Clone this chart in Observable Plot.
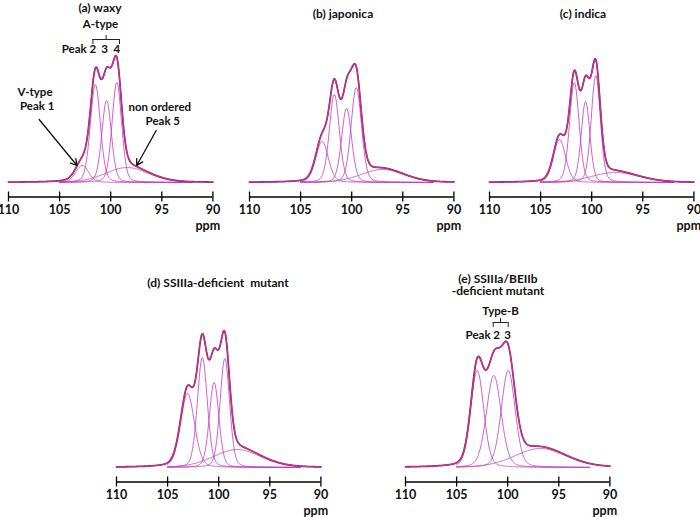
<!DOCTYPE html>
<html><head><meta charset="utf-8">
<script src="https://cdn.jsdelivr.net/npm/d3@7"></script>
<script src="https://cdn.jsdelivr.net/npm/@observablehq/plot@0.6"></script>
<style>
html,body{margin:0;padding:0;background:#fff;overflow:hidden;}
#wrap{position:relative;width:700px;height:517px;overflow:hidden;font-family:Lato,"Open Sans",sans-serif;}
.panel{position:absolute;width:240px;height:260px;}
.panel svg{max-width:none !important;}
.title{position:absolute;width:300px;text-align:center;font-size:12px;font-weight:700;line-height:11.5px;color:#111;white-space:pre;}
</style></head><body><div id="wrap"></div>
<script>
// ---- data ----
const xTicks = [110, 105, 100, 95, 90];
const axisLabel = "ppm";

// Titles
const titleA = ["(a) waxy"];
const titleB = ["(b) japonica"];
const titleC = ["(c) indica"];
const titleD = ["(d) SSIIIa-deficient  mutant"];
const titleE = ["(e) SSIIIa/BEIIb", "-deficient mutant"];

// Deconvoluted peaks: centre (ppm), height (intensity), FWHM (ppm)
const centersA = [102.8, 101.5, 100.4, 99.4, 98.4];
const heightsA = [17, 98, 82, 100, 15];
const widthsA  = [1.5, 1.15, 1.1, 1.1, 5.0];

const centersB = [102.9, 101.7, 100.5, 99.55, 97.0];
const heightsB = [41, 88, 74, 95, 13];
const widthsB  = [1.45, 1.15, 1.15, 1.2, 5.0];

const centersC = [103.15, 101.7, 100.6, 99.6, 97.7];
const heightsC = [43, 100, 81, 107, 10];
const widthsC  = [1.4, 1.1, 1.0, 1.05, 5.5];

const centersD = [103.05, 101.6, 100.45, 99.4, 98.2];
const heightsD = [74, 110, 85, 109, 18];
const widthsD  = [1.6, 1.15, 1.1, 1.1, 5.5];

const centersE = [102.98, 101.36, 99.95, 96.8];
const heightsE = [97, 92, 97, 19];
const widthsE  = [1.5, 1.7, 1.6, 6.0];

// Annotations (ppm, intensity)
const labelsMidA = [
  {text: "A-type", x: 101.0, y: 158},
  {text: "3", x: 100.6, y: 133},
  {text: "4", x: 99.4, y: 133},
  {text: "V-type", x: 107.4, y: 90},
  {text: "Peak 1", x: 107.2, y: 76},
  {text: "non ordered", x: 95.2, y: 75},
  {text: "Peak 5", x: 94.9, y: 61}
];
const labelsEndA = [{text: "Peak 2", x: 101.42, y: 133}];
const arrowsA = [
  {x1: 107.0, y1: 63, x2: 103.3, y2: 17},
  {x1: 95.55, y1: 52, x2: 97.45, y2: 17}
];
const bracketA = {x1: 101.74, x2: 99.14, xm: 100.45, y: 143, yEnd: 138, yMid: 147};

const labelsMidE = [
  {text: "Type-B", x: 100.7, y: 156},
  {text: "3", x: 100.0, y: 132.5}
];
const labelsEndE = [{text: "Peak 2", x: 100.75, y: 132.5}];
const bracketE = {x1: 101.42, x2: 99.95, xm: 100.7, y: 145, yEnd: 140, yMid: 149};

// page placement (pixels) of each panel
const panels = [
  {title: titleA, centers: centersA, heights: heightsA, widths: widthsA, mid: labelsMidA, end: labelsEndA, arrows: arrowsA, bracket: bracketA, left: -11.7, top: -18, tx: 100, ty: 8},
  {title: titleB, centers: centersB, heights: heightsB, widths: widthsB, mid: [], end: [], arrows: [], bracket: null, left: 229, top: -18, tx: 343, ty: 14},
  {title: titleC, centers: centersC, heights: heightsC, widths: widthsC, mid: [], end: [], arrows: [], bracket: null, left: 469.3, top: -18, tx: 583, ty: 14},
  {title: titleD, centers: centersD, heights: heightsD, widths: widthsD, mid: [], end: [], arrows: [], bracket: null, left: 95.7, top: 266.5, tx: 218, ty: 283},
  {title: titleE, centers: centersE, heights: heightsE, widths: widthsE, mid: labelsMidE, end: labelsEndE, arrows: [], bracket: bracketE, left: 385, top: 266.5, tx: 498, ty: 285}
];

// ---- drawing ----
const ETA = 0.2;
function shape(x, c, h, w) {
  const d = (x - c) / (w / 2);
  const L = 1 / (1 + d * d);
  const G = Math.exp(-Math.LN2 * d * d);
  return h * (ETA * L + (1 - ETA) * G);
}
const grid = d3.range(0, 401).map(i => 90 + i * 0.05);
const compGrid = grid.filter(x => x >= 92 && x <= 105);
const font = "Lato, 'Open Sans', sans-serif";
const wrap = document.getElementById("wrap");
const textStyle = {fontSize: 11.5, fontWeight: 700, fontFamily: font, fill: "#111"};

for (const p of panels) {
  const comps = p.centers.map((c, i) => ({k: i, c, h: p.heights[i], w: p.widths[i]}));
  const compRows = comps.flatMap(q => compGrid.map(x => ({k: q.k, x, y: shape(x, q.c, q.h, q.w)})));
  const sumRows = grid.map(x => ({x, y: d3.sum(comps, q => shape(x, q.c, q.h, q.w))}));
  const marks = [
    Plot.line(compRows, {x: "x", y: "y", z: "k", stroke: "#c23cc2", strokeWidth: 0.9, strokeOpacity: 0.9}),
    Plot.line(sumRows, {x: "x", y: "y", stroke: "#3a3aff", strokeWidth: 1.8}),
    Plot.line(sumRows, {x: "x", y: "y", stroke: "#ff2a2a", strokeWidth: 1.1}),
    Plot.ruleY([-14.5], {x1: 110, x2: 90, stroke: "#000", strokeWidth: 1.3}),
    Plot.ruleX(xTicks, {x: d => d, y1: -9.5, y2: -19.5, stroke: "#000", strokeWidth: 1.3}),
    Plot.text(xTicks, {x: d => d, y: -27.5, text: d => String(d), ...textStyle, fontSize: 12.5}),
    Plot.text([axisLabel], {x: 90.5, y: -43, text: d => d, ...textStyle, fontSize: 12.5})
  ];
  if (p.mid.length) marks.push(Plot.text(p.mid, {x: "x", y: "y", text: "text", textAnchor: "middle", ...textStyle}));
  if (p.end.length) marks.push(Plot.text(p.end, {x: "x", y: "y", text: "text", textAnchor: "end", ...textStyle}));
  if (p.arrows.length) {
    marks.push(Plot.arrow(p.arrows, {x1: "x1", y1: "y1", x2: "x2", y2: "y2", stroke: "#111", strokeWidth: 1.3, headLength: 8}));
  }
  if (p.bracket) {
    const b = p.bracket;
    marks.push(Plot.ruleY([b], {y: "y", x1: "x1", x2: "x2", stroke: "#222", strokeWidth: 1}));
    marks.push(Plot.ruleX([b.x1, b.x2], {x: d => d, y1: b.y, y2: b.yEnd, stroke: "#222", strokeWidth: 1}));
    marks.push(Plot.ruleX([b.xm], {x: d => d, y1: b.y, y2: b.yMid, stroke: "#222", strokeWidth: 1}));
  }
  const chart = Plot.plot({
    width: 240, height: 260,
    marginTop: 0, marginRight: 0, marginBottom: 0, marginLeft: 0,
    x: {domain: [110, 90], range: [20, 224.4], axis: null},
    y: {domain: [0, 150], range: [200, 50], axis: null},
    style: {background: "transparent", overflow: "visible", maxWidth: "none"},
    marks
  });
  const div = document.createElement("div");
  div.className = "panel";
  div.style.left = p.left + "px";
  div.style.top = p.top + "px";
  div.appendChild(chart);
  wrap.appendChild(div);

  const t = document.createElement("div");
  t.className = "title";
  t.style.left = (p.tx - 150) + "px";
  t.style.top = (p.ty - 6 * p.title.length) + "px";
  t.textContent = p.title.join("\n");
  wrap.appendChild(t);
}
</script>
</body></html>
